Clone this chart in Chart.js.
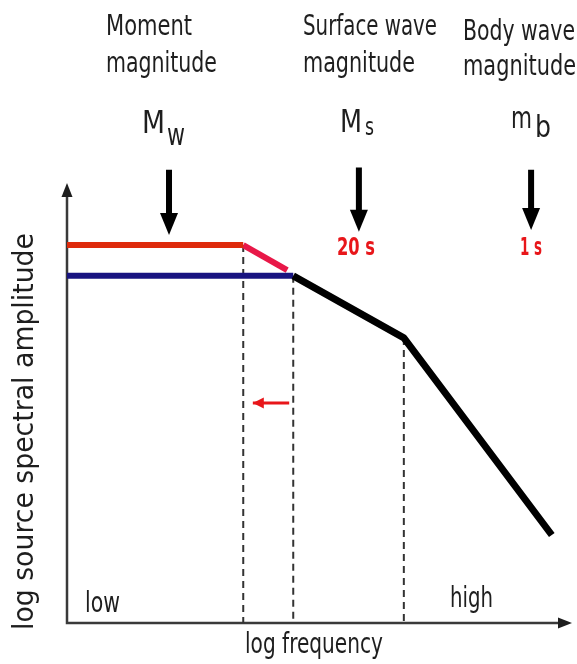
<!DOCTYPE html>
<html>
<head>
<meta charset="utf-8">
<script src="https://cdn.jsdelivr.net/npm/chart.js@4"></script>
<style>
  html, body { margin:0; padding:0; background:#fff; }
  canvas { display:block; }
</style>
</head>
<body>
<canvas id="graph" width="577" height="664"></canvas>
<script>
// source spectrum corners, x = log frequency, y = log amplitude (schematic 0-100 units)
var redFlatX = [0, 34.9];
var redFlatY = [85.9, 85.9];
var redDropX = [34.9, 43.6];
var redDropY = [85.9, 80.2];
var blueX = [0, 44.8];
var blueY = [78.9, 78.9];
var blackX = [44.8, 66.7, 96.0];
var blackY = [78.9, 64.8, 20.0];
// corner frequencies (dashed lines down to the axis)
var cornerX = [34.9, 44.8, 66.7];
var cornerY = [85.9, 78.9, 64.8];
// red arrow: corner shifting to lower frequency
var shiftX = [44.0, 36.8];
var shiftY = [50.0, 50.0];
// magnitude scales and where they read the spectrum
var magNames = [["Moment", "magnitude"], ["Surface wave", "magnitude"], ["Body wave", "magnitude"]];
var magSymbol = ["M", "M", "m"];
var magSub = ["w", "s", "b"];
var magX = [20.2, 57.8, 91.9];
var magTop = [103.0, 103.5, 103.0];
var magTip = [88.2, 88.9, 89.3];
var periods = ["", "20 s", "1 s"];
var xEnds = ["low", "high"];
var xTitle = "log frequency";
var yTitle = "log source spectral amplitude";

var FONT = "'Liberation Sans Narrow', 'DejaVu Sans Condensed', sans-serif";

function pts(xs, ys){
  var out = [];
  for(var i = 0; i < xs.length; i++){
    out.push({x: xs[i], y: ys[i]});
  }
  return out;
}

// text squeezed/stretched to a target width
function txt(ctx, s, x, y, size, w, color, bold){
  ctx.save();
  ctx.font = (bold ? "bold " : "") + size + "px " + FONT;
  ctx.fillStyle = color || "#1e1e1e";
  ctx.textBaseline = "alphabetic";
  ctx.textAlign = "left";
  var m = ctx.measureText(s).width;
  ctx.translate(x, y);
  if(w){ ctx.scale(w / m, 1); }
  ctx.fillText(s, 0, 0);
  ctx.restore();
}

function head(ctx, tipX, tipY, dx, dy, len, half, color){
  // dx,dy = unit direction of travel
  ctx.save();
  ctx.fillStyle = color;
  ctx.beginPath();
  ctx.moveTo(tipX, tipY);
  ctx.lineTo(tipX - dx*len - dy*half, tipY - dy*len + dx*half);
  ctx.lineTo(tipX - dx*len + dy*half, tipY - dy*len - dx*half);
  ctx.closePath();
  ctx.fill();
  ctx.restore();
}

var decor = {
  id: 'decor',
  beforeDatasetsDraw: function(chart){
    var ctx = chart.ctx, a = chart.chartArea;
    ctx.save();
    ctx.strokeStyle = "#3a3a3a";
    ctx.lineWidth = 2.5;
    ctx.beginPath();
    ctx.moveTo(a.left, a.top + 10);
    ctx.lineTo(a.left, a.bottom);
    ctx.lineTo(a.right - 10, a.bottom);
    ctx.stroke();
    ctx.restore();
    head(ctx, a.left, a.top, 0, -1, 14, 5.5, "#1e1e1e");
    head(ctx, a.right, a.bottom, 1, 0, 14, 5.5, "#1e1e1e");
  },
  afterDatasetsDraw: function(chart){
    var ctx = chart.ctx, a = chart.chartArea;
    var sx = chart.scales.x, sy = chart.scales.y;

    // magnitude arrow heads
    for(var i = 0; i < magX.length; i++){
      head(ctx, sx.getPixelForValue(magX[i]), sy.getPixelForValue(magTip[i]), 0, 1, 22, 9, "#000");
    }
    // red shift arrow head
    head(ctx, sx.getPixelForValue(shiftX[1]), sy.getPixelForValue(shiftY[1]), -1, 0, 11, 5.5, "#e8161a");

    // top labels
    txt(ctx, magNames[0][0], 106, 35, 28, 86);
    txt(ctx, magNames[0][1], 106, 72, 28, 111);
    txt(ctx, magNames[1][0], 303, 35, 28, 134);
    txt(ctx, magNames[1][1], 303, 72, 28, 112);
    txt(ctx, magNames[2][0], 463, 40, 28, 112);
    txt(ctx, magNames[2][1], 463, 75, 28, 113);

    // symbols
    txt(ctx, magSymbol[0], 142, 133, 32, 23);
    txt(ctx, magSub[0], 167, 145, 31, 18);
    txt(ctx, magSymbol[1], 340, 132, 32, 22);
    txt(ctx, magSub[1], 365, 135, 25, 9);
    txt(ctx, magSymbol[2], 511, 128, 31, 21);
    txt(ctx, magSub[2], 535, 137, 30, 16);

    // periods
    txt(ctx, periods[1], 337, 255, 25, 38, "#e8161a", true);
    txt(ctx, periods[2], 520, 255, 25, 22, "#e8161a", true);

    // axis texts
    txt(ctx, xEnds[0], 85, 612, 28, 35);
    txt(ctx, xEnds[1], 450, 607, 28, 43);
    txt(ctx, xTitle, 245, 653, 28, 138);

    ctx.save();
    ctx.translate(33, 630);
    ctx.rotate(-Math.PI/2);
    txt(ctx, yTitle, 0, 0, 28, 397);
    ctx.restore();
  }
};

var datasets = [
  {data: pts(redFlatX, redFlatY), borderColor: "rgb(222,42,12)", borderWidth: 6, order: 2},
  {data: pts(redDropX, redDropY), borderColor: "rgb(232,24,72)", borderWidth: 6, order: 2},
  {data: pts(blueX, blueY), borderColor: "rgb(24,20,128)", borderWidth: 6, order: 1},
  {data: pts(blackX, blackY), borderColor: "#000", borderWidth: 7, borderJoinStyle: 'round', order: 0},
  {data: pts(shiftX, shiftY), borderColor: "#e8161a", borderWidth: 3, order: 0}
];
for(var c = 0; c < cornerX.length; c++){
  datasets.push({data: pts([cornerX[c], cornerX[c]], [cornerY[c], 0]), borderColor: "#333",
    borderWidth: 2, borderDash: [7, 5], order: 5});
}
for(var k = 0; k < magX.length; k++){
  datasets.push({data: pts([magX[k], magX[k]], [magTop[k], magTip[k] + 3]), borderColor: "#000",
    borderWidth: 6, clip: false, order: 0});
}

var chart = new Chart(document.getElementById('graph'), {
  type: 'line',
  data: {datasets: datasets},
  plugins: [decor],
  options: {
    responsive: false,
    animation: false,
    devicePixelRatio: 1,
    layout: {padding: {left: 67, right: 5, top: 183, bottom: 41}},
    elements: {point: {radius: 0}, line: {tension: 0, fill: false}},
    plugins: {legend: {display: false}, tooltip: {enabled: false}},
    scales: {
      x: {type: 'linear', min: 0, max: 100, display: false},
      y: {type: 'linear', min: 0, max: 100, display: false}
    }
  }
});
</script>
</body>
</html>
